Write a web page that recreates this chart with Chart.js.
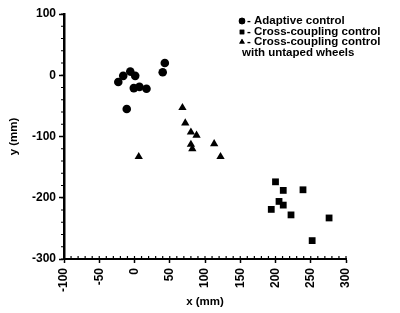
<!DOCTYPE html>
<html>
<head>
<meta charset="utf-8">
<script src="https://cdn.jsdelivr.net/npm/chart.js@4/dist/chart.umd.min.js"></script>
<style>
  html, body { margin: 0; padding: 0; background: #fff; }
  #wrap { width: 400px; height: 313px; position: relative; }
</style>
</head>
<body>
<div id="wrap"><canvas id="chart"></canvas></div>
<script>
// values (x mm, y mm)
const adaptiveX = [-23, -16, -6, 1, -1, 7, 17, -11, 40, 43];
const adaptiveY = [-11, -1, 6, -1, -21, -19, -22, -55, 5, 20];

const crossX = [200, 211, 239, 205, 211, 194, 222, 276, 252];
const crossY = [-174, -188, -187, -206, -212, -219, -228, -233, -270];

const untapedX = [68, 72, 80, 88, 80, 82, 113, 122, 6];
const untapedY = [-53, -78, -93, -98, -113, -120, -112, -133, -133];

const legendLabels = ["- Adaptive control", "- Cross-coupling control", "- Cross-coupling control", "with untaped wheels"];

const xTicks = [-100, -50, 0, 50, 100, 150, 200, 250, 300];
const yTicks = [100, 0, -100, -200, -300];
const xMinorStep = 10;
const yMinorStep = 20;

const toPoints = (xs, ys) => xs.map((x, i) => ({ x: x, y: ys[i] }));

const tickFont = { family: "Liberation Sans", weight: "bold", size: 12 };
const titleFont = { family: "Liberation Sans", weight: "bold", size: 11.5 };

// legend drawn by hand so the last entry can wrap onto two lines
const legendPlugin = {
  id: "handLegend",
  afterDraw(chart) {
    const ctx = chart.ctx;
    const styles = ["circle", "rect", "triangle"];
    const rows = [21, 32, 42, 53];
    ctx.save();
    ctx.fillStyle = "#000";
    ctx.font = "bold 11.5px 'Liberation Sans'";
    ctx.textBaseline = "middle";
    legendLabels.forEach((txt, i) => {
      const y = rows[i];
      if (i < 3) {
        Chart.helpers.drawPoint(ctx, { pointStyle: styles[i], radius: 3.2, borderWidth: 0 }, 242, y);
        ctx.fill();
        ctx.fillText(txt, 247, y);
      } else {
        ctx.fillText(txt, 242, y);
      }
    });
    ctx.restore();
  }
};

// small ticks between the labelled ones
const minorTicks = {
  id: "minorTicks",
  afterDraw(chart) {
    const { ctx, scales: { x, y } } = chart;
    ctx.save();
    ctx.strokeStyle = "#000";
    ctx.lineWidth = 1.2;
    ctx.beginPath();
    for (let v = x.min; v <= x.max; v += xMinorStep) {
      const px = x.getPixelForValue(v);
      ctx.moveTo(px, y.bottom - 3);
      ctx.lineTo(px, y.bottom + 1);
    }
    for (let v = y.min; v <= y.max; v += yMinorStep) {
      const py = y.getPixelForValue(v);
      ctx.moveTo(x.left, py);
      ctx.lineTo(x.left - 3, py);
    }
    ctx.stroke();
    ctx.restore();
  }
};

new Chart(document.getElementById("chart"), {
  type: "scatter",
  data: {
    datasets: [
      { label: "Adaptive control", data: toPoints(adaptiveX, adaptiveY), pointStyle: "circle", pointRadius: 4.3 },
      { label: "Cross-coupling control", data: toPoints(crossX, crossY), pointStyle: "rect", pointRadius: 4.8 },
      { label: "Cross-coupling control with untaped wheels", data: toPoints(untapedX, untapedY), pointStyle: "triangle", pointRadius: 4.8 }
    ].map(d => ({ ...d, backgroundColor: "#000", borderColor: "#000", borderWidth: 0, pointHoverRadius: 4 }))
  },
  options: {
    responsive: true,
    maintainAspectRatio: false,
    animation: false,
    layout: { padding: { left: 3, top: 14, right: 54, bottom: 0 } },
    plugins: { legend: { display: false }, tooltip: { enabled: false } },
    scales: {
      x: {
        type: "linear",
        min: -100, max: 300,
        afterBuildTicks: s => { s.ticks = xTicks.map(v => ({ value: v })); },
        ticks: { color: "#000", font: tickFont, minRotation: 90, maxRotation: 90, padding: 5, autoSkip: false },
        grid: { drawOnChartArea: false, drawTicks: true, tickLength: 4, color: "#000", tickWidth: 1.5 },
        border: { color: "#000", width: 2 },
        title: { display: true, text: "x (mm)", color: "#000", font: titleFont, padding: { top: 3 } },
        afterFit: s => { s.height = 54; }
      },
      y: {
        type: "linear",
        min: -300, max: 100,
        afterBuildTicks: s => { s.ticks = yTicks.map(v => ({ value: v })); },
        ticks: { color: "#000", font: tickFont, padding: 3 },
        grid: { drawOnChartArea: false, drawTicks: true, tickLength: 5, color: "#000", tickWidth: 1.5 },
        border: { color: "#000", width: 2.5 },
        title: { display: true, text: "y (mm)", color: "#000", font: titleFont, padding: { bottom: 2 } },
        afterFit: s => { s.width = 61; }
      }
    }
  },
  plugins: [legendPlugin, minorTicks]
});
</script>
</body>
</html>
